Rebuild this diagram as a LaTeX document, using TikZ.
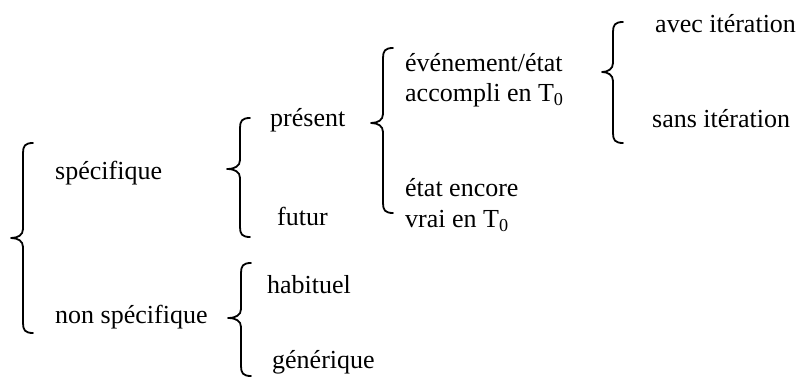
\documentclass[tikz,border=0pt]{standalone}
\usepackage{fontspec}
\setmainfont{Liberation Serif}
% curly brace: x of the stem, top, tip and bottom y, hook length
\newcommand{\curlybrace}[5]{%
  \draw[bracestroke]
    (#1+10,#2) .. controls (#1+2,#2) and (#1,#2+3) .. (#1,#2+10)
    -- (#1,#3-9) .. controls (#1,#3-3) and (#1-5,#3) .. (#1-#5,#3)
    .. controls (#1-5,#3) and (#1,#3+3) .. (#1,#3+9)
    -- (#1,#4-10) .. controls (#1,#4-3) and (#1+2,#4) .. (#1+10,#4);}
\begin{document}
\begin{tikzpicture}[x=1pt,y=-1pt,
  lbl/.style={anchor=base west,inner sep=0pt,font=\fontsize{26}{31}\selectfont},
  bracestroke/.style={line width=1.8pt,line cap=round,line join=round}]
\useasboundingbox (0,0) rectangle (801,379);

% labels
\node[lbl] (spec)   at (55,180)  {spécifique};
\node[lbl] (nspec)  at (55,324)  {non spécifique};
\node[lbl] (pres)   at (270,127) {présent};
\node[lbl] (fut)    at (277,226) {futur};
\node[lbl] (ev1)    at (405,72)  {événement/état};
\node[lbl] (ev2)    at (405,102) {accompli en T\textsubscript{0}};
\node[lbl] (et1)    at (405,197) {état encore};
\node[lbl] (et2)    at (405,228) {vrai en T\textsubscript{0}};
\node[lbl] (avec)   at (655,33)  {avec itération};
\node[lbl] (sans)   at (652,128) {sans itération};
\node[lbl] (hab)    at (267,294) {habituel};
\node[lbl] (gen)    at (272,369) {générique};

% braces
\curlybrace{23}{143}{238}{333}{12}
\curlybrace{240}{118}{169}{237}{13}
\curlybrace{383}{48}{123}{213}{12}
\curlybrace{613}{22}{72}{143}{11}
\curlybrace{241}{263}{318}{376}{13}
\end{tikzpicture}
\end{document}
